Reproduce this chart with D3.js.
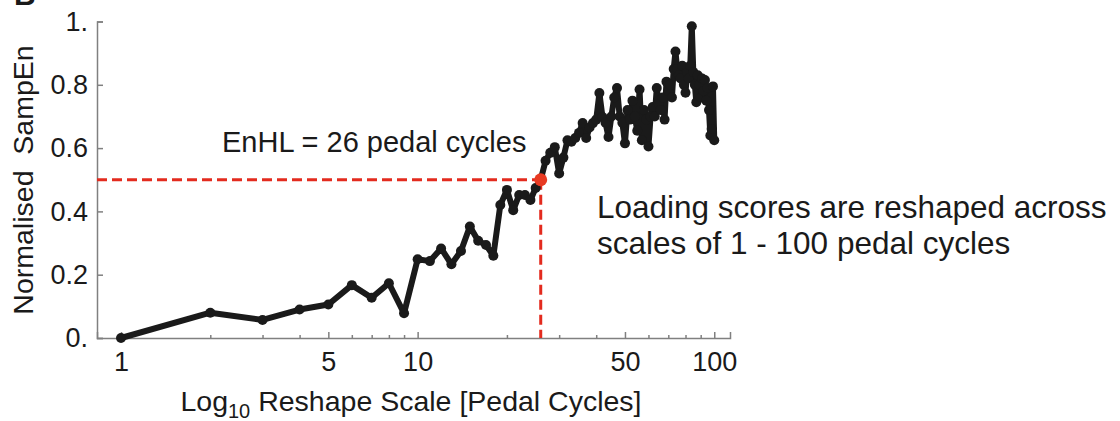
<!DOCTYPE html>
<html>
<head>
<meta charset="utf-8">
<script src="https://cdn.jsdelivr.net/npm/d3@7"></script>
<style>
  body { margin: 0; background: #fff; }
  svg text { font-family: "Liberation Sans", Arial, sans-serif; fill: #1a1a1a; }
</style>
</head>
<body>
<div class="sampenChart"></div>
<script>
// reshape scales (pedal cycles) and the normalised SampEn at each one
var scales = [1, 2, 3, 4, 5, 6, 7, 8, 9, 10,
  11, 12, 13, 14, 15, 16, 17, 18, 19, 20,
  21, 22, 23, 24, 25, 26, 27, 28, 29, 30,
  31, 32, 33, 34, 35, 36, 37, 38, 39, 40,
  41, 42, 43, 44, 45, 46, 47, 48, 49, 50,
  51, 52, 53, 54, 55, 56, 57, 58, 59, 60,
  61, 62, 63, 64, 65, 66, 67, 68, 69, 70,
  71, 72, 73, 74, 75, 76, 77, 78, 79, 80,
  81, 82, 83, 84, 85, 86, 87, 88, 89, 90,
  91, 92, 93, 94, 95, 96, 97, 98, 99, 100];
var sampEn = [0.000, 0.080, 0.057, 0.090, 0.106, 0.167, 0.127, 0.173, 0.078, 0.249,
  0.243, 0.283, 0.233, 0.275, 0.352, 0.307, 0.294, 0.260, 0.420, 0.468,
  0.404, 0.452, 0.452, 0.436, 0.474, 0.500, 0.560, 0.585, 0.603, 0.520,
  0.570, 0.625, 0.620, 0.632, 0.648, 0.679, 0.632, 0.665, 0.679, 0.690,
  0.774, 0.698, 0.680, 0.635, 0.700, 0.760, 0.790, 0.700, 0.680, 0.615,
  0.720, 0.690, 0.750, 0.700, 0.655, 0.785, 0.625, 0.720, 0.690, 0.605,
  0.700, 0.730, 0.700, 0.790, 0.740, 0.720, 0.760, 0.690, 0.810, 0.780,
  0.800, 0.760, 0.850, 0.905, 0.850, 0.830, 0.820, 0.860, 0.800, 0.775,
  0.840, 0.820, 0.860, 0.985, 0.840, 0.800, 0.745, 0.830, 0.800, 0.760,
  0.820, 0.780, 0.815, 0.750, 0.790, 0.720, 0.640, 0.660, 0.795, 0.625];

var majorTicks = [1, 5, 10, 50, 100];
var minorTicks = [2, 3, 4, 6, 7, 8, 9, 20, 30, 40, 60, 70, 80, 90];
var yTicks = [0, 0.2, 0.4, 0.6, 0.8, 1];
var yTickLabels = ["0.", "0.2", "0.4", "0.6", "0.8", "1."];

var enhlScale = 26;
var enhlValue = 0.5;

var svg = d3.select(".sampenChart")
    .append("svg")
    .attr("width", 1120)
    .attr("height", 421);

var x = d3.scaleLog()
    .domain([0.83, 113])
    .range([97, 730]);

var y = d3.scaleLinear()
    .domain([0, 1])
    .range([338, 21.5]);

// panel letter, cut off at the top edge like the source figure
svg.append("text")
    .attr("x", 14)
    .attr("y", 5)
    .style("font-size", "30px")
    .style("font-weight", "bold")
    .text("B");

// axes
var xMajor = svg.append("g")
    .attr("transform", "translate(0,338)")
    .call(d3.axisBottom(x)
        .tickValues(majorTicks)
        .tickSize(-6)
        .tickPadding(14)
        .tickFormat(d3.format("d")));

var xMinor = svg.append("g")
    .attr("transform", "translate(0,338)")
    .call(d3.axisBottom(x)
        .tickValues(minorTicks)
        .tickSize(-3)
        .tickFormat(""));

var yAxis = svg.append("g")
    .attr("transform", "translate(97,0)")
    .call(d3.axisLeft(y)
        .tickValues(yTicks)
        .tickSize(-6)
        .tickPadding(9)
        .tickFormat(function (d, i) { return yTickLabels[i]; }));

svg.selectAll(".domain, .tick line")
    .attr("stroke", "#808080")
    .attr("stroke-width", 1.5);
xMinor.select(".domain").remove();
svg.selectAll(".tick text")
    .style("font-size", "27px")
    .attr("fill", "#1a1a1a");

// axis titles
var xTitle = svg.append("text")
    .attr("x", 411)
    .attr("y", 411)
    .attr("text-anchor", "middle")
    .style("font-size", "28.5px");
xTitle.append("tspan").text("Log");
xTitle.append("tspan").attr("dy", 7).style("font-size", "20px").text("10");
xTitle.append("tspan").attr("dy", -7).text(" Reshape Scale [Pedal Cycles]");

svg.append("text")
    .attr("transform", "translate(33,180) rotate(-90)")
    .attr("text-anchor", "middle")
    .style("font-size", "28.5px")
    .style("white-space", "pre")
    .attr("xml:space", "preserve")
    .text("Normalised  SampEn");

// EnHL guide lines
svg.append("line")
    .attr("x1", x.range()[0])
    .attr("x2", x(enhlScale))
    .attr("y1", y(enhlValue))
    .attr("y2", y(enhlValue))
    .attr("stroke", "#e32b1e")
    .attr("stroke-width", 3)
    .attr("stroke-dasharray", "10,5");

svg.append("line")
    .attr("x1", x(enhlScale))
    .attr("x2", x(enhlScale))
    .attr("y1", y(enhlValue))
    .attr("y2", y(0))
    .attr("stroke", "#e32b1e")
    .attr("stroke-width", 3)
    .attr("stroke-dasharray", "10,5");

// data line and points
var line = d3.line()
    .x(function (d, i) { return x(scales[i]); })
    .y(function (d) { return y(d); });

svg.append("path")
    .datum(sampEn)
    .attr("d", line)
    .attr("fill", "none")
    .attr("stroke", "#1a1a1a")
    .attr("stroke-width", 6)
    .attr("stroke-linejoin", "round");

svg.selectAll(".pt")
    .data(sampEn)
    .enter()
    .append("circle")
    .attr("class", "pt")
    .attr("cx", function (d, i) { return x(scales[i]); })
    .attr("cy", function (d) { return y(d); })
    .attr("r", 5)
    .attr("fill", "#1a1a1a");

svg.append("circle")
    .attr("cx", x(enhlScale))
    .attr("cy", y(enhlValue))
    .attr("r", 6.5)
    .attr("fill", "#e83a22");

// annotations
svg.append("text")
    .attr("x", 222)
    .attr("y", 152)
    .style("font-size", "29px")
    .text("EnHL = 26 pedal cycles");

svg.append("text")
    .attr("x", 597)
    .attr("y", 218)
    .style("font-size", "31.5px")
    .text("Loading scores are reshaped across");

svg.append("text")
    .attr("x", 597)
    .attr("y", 254)
    .style("font-size", "31.5px")
    .text("scales of 1 - 100 pedal cycles");
</script>
</body>
</html>
